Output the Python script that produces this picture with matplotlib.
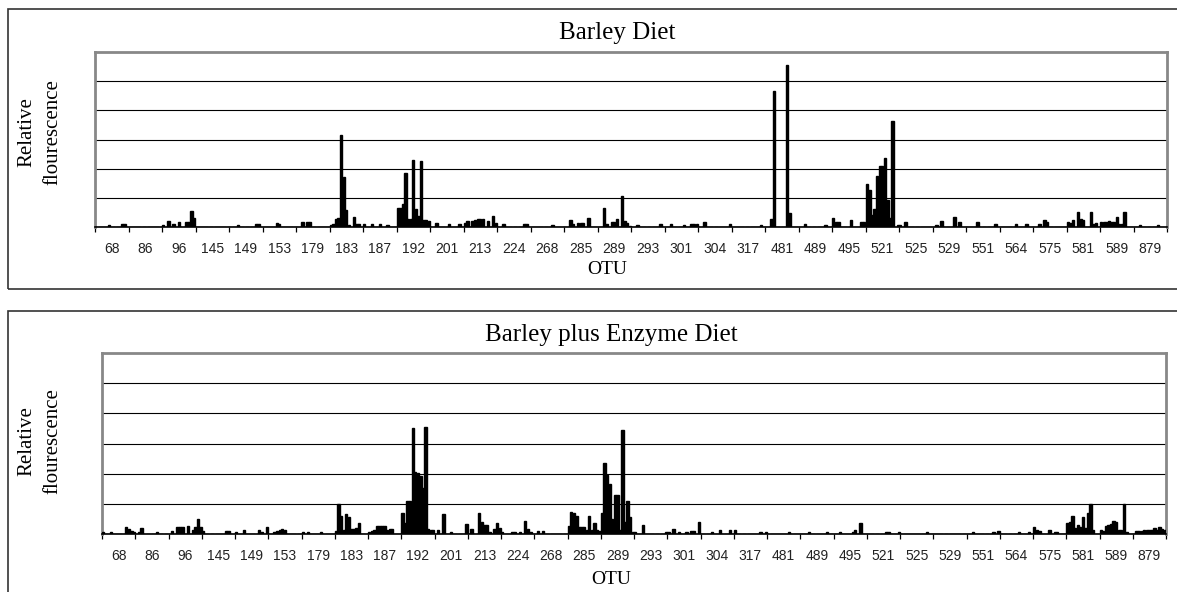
import numpy as np
from matplotlib import pyplot as plt
from matplotlib.patches import Rectangle

otu_labels = ['68', '86', '96', '145', '149', '153', '179', '183', '187', '192', '201',
              '213', '224', '268', '285', '289', '293', '301', '304', '317', '481', '489',
              '495', '521', '525', '529', '551', '564', '575', '581', '589', '879']
bars_per_label = 13

# relative fluorescence, one row of 13 OTUs per axis label (grid line = 1)
barley = [
    [0, 0, 0, 0, 0, 0.08, 0, 0, 0, 0, 0.11, 0.11, 0],
    [0, 0, 0, 0, 0, 0, 0, 0, 0, 0, 0, 0, 0],
    [0.08, 0, 0.2, 0, 0.11, 0, 0.18, 0, 0, 0.16, 0.16, 0.55, 0.3],
    [0, 0, 0, 0, 0, 0, 0, 0, 0, 0, 0, 0, 0],
    [0, 0, 0, 0.08, 0, 0, 0, 0, 0, 0, 0.1, 0.1, 0],
    [0, 0, 0, 0, 0, 0.14, 0.09, 0, 0, 0, 0, 0, 0],
    [0, 0, 0.18, 0, 0.16, 0.16, 0, 0, 0, 0, 0, 0, 0],
    [0.08, 0.11, 0.28, 0.3, 3.15, 1.7, 0.6, 0.08, 0, 0.35, 0.11, 0.09, 0],
    [0.09, 0, 0, 0.11, 0, 0, 0.11, 0, 0, 0.08, 0, 0, 0],
    [0.64, 0.64, 0.78, 1.85, 0.26, 0.26, 2.3, 0.62, 0.37, 2.28, 0.23, 0.23, 0.2],
    [0, 0, 0.14, 0, 0, 0, 0, 0.1, 0, 0, 0, 0.1, 0],
    [0.14, 0.2, 0, 0.2, 0.23, 0.26, 0.26, 0.26, 0, 0.2, 0, 0.38, 0.14],
    [0, 0, 0.09, 0, 0, 0, 0, 0, 0, 0, 0.1, 0.1, 0],
    [0, 0, 0, 0, 0, 0, 0, 0, 0.08, 0, 0, 0, 0],
    [0, 0, 0.24, 0.1, 0, 0.15, 0.15, 0.14, 0, 0.31, 0, 0, 0],
    [0, 0, 0.64, 0.1, 0, 0.16, 0.16, 0.29, 0, 1.06, 0.2, 0.15, 0.05],
    [0, 0, 0.08, 0, 0, 0, 0, 0, 0, 0, 0, 0.09, 0],
    [0, 0, 0.09, 0, 0, 0, 0, 0.08, 0, 0, 0.09, 0.1, 0.09],
    [0, 0, 0.16, 0, 0, 0, 0, 0, 0, 0, 0, 0, 0.09],
    [0, 0, 0, 0, 0, 0, 0, 0, 0, 0, 0, 0.07, 0],
    [0, 0, 0.29, 4.66, 0, 0, 0, 0, 5.54, 0.47, 0, 0, 0],
    [0, 0, 0.09, 0, 0, 0, 0, 0, 0, 0, 0.08, 0, 0],
    [0.32, 0.18, 0.18, 0, 0, 0, 0, 0.23, 0, 0, 0, 0.18, 0.18],
    [1.49, 1.26, 0.4, 0.63, 1.75, 2.08, 2.08, 2.37, 0.93, 0.32, 3.63, 0, 0.08],
    [0.08, 0, 0.18, 0, 0, 0, 0, 0, 0, 0, 0, 0, 0],
    [0, 0.08, 0, 0.22, 0, 0, 0, 0, 0.34, 0, 0.16, 0, 0],
    [0, 0, 0, 0, 0.16, 0, 0, 0, 0, 0, 0, 0.09, 0],
    [0, 0, 0, 0, 0, 0, 0.11, 0, 0, 0, 0.09, 0, 0],
    [0, 0, 0.1, 0, 0.24, 0.16, 0, 0, 0, 0, 0, 0, 0],
    [0.16, 0.14, 0.24, 0, 0.5, 0.26, 0.23, 0, 0, 0.5, 0.11, 0.14, 0],
    [0.16, 0.16, 0.16, 0.2, 0.16, 0.16, 0.36, 0.1, 0.11, 0.5, 0, 0, 0],
    [0, 0, 0.08, 0, 0, 0, 0, 0, 0, 0.08, 0, 0, 0],
]

barley_enzyme = [
    [0.07, 0, 0, 0.06, 0, 0, 0, 0, 0, 0.22, 0.17, 0.11, 0.08],
    [0, 0.06, 0.19, 0, 0, 0, 0, 0, 0.08, 0, 0, 0, 0],
    [0, 0.09, 0, 0.24, 0.24, 0.23, 0, 0.28, 0, 0.13, 0.24, 0.49, 0.24],
    [0.11, 0, 0, 0, 0, 0, 0, 0, 0, 0.1, 0.1, 0, 0],
    [0.08, 0, 0, 0.12, 0, 0, 0, 0, 0, 0.13, 0.08, 0, 0.22],
    [0, 0, 0.07, 0.11, 0.14, 0.17, 0.14, 0, 0, 0, 0, 0, 0],
    [0.07, 0, 0.06, 0, 0, 0, 0, 0.07, 0, 0, 0, 0, 0],
    [0.1, 1.0, 0.61, 0.13, 0.67, 0.58, 0.16, 0.18, 0.19, 0.36, 0, 0, 0],
    [0.08, 0.11, 0.13, 0.28, 0.27, 0.27, 0.28, 0.13, 0.17, 0.17, 0, 0, 0],
    [0.71, 0.36, 1.08, 1.08, 3.52, 2.06, 2.02, 1.93, 1.52, 3.56, 0.16, 0.13, 0.13],
    [0, 0.13, 0, 0.67, 0, 0, 0.08, 0, 0, 0, 0, 0, 0.33],
    [0, 0.17, 0, 0, 0.71, 0.39, 0.3, 0.3, 0.08, 0, 0.17, 0.36, 0.19],
    [0.06, 0, 0, 0, 0.05, 0.07, 0, 0.08, 0, 0.44, 0.17, 0.08, 0],
    [0, 0.1, 0, 0.1, 0, 0, 0, 0, 0, 0, 0, 0, 0],
    [0.28, 0.74, 0.69, 0.6, 0.22, 0.24, 0.24, 0.13, 0.61, 0.13, 0.38, 0.13, 0.1],
    [0.69, 2.36, 1.97, 1.66, 0.5, 1.3, 1.3, 0.13, 3.44, 0.39, 1.1, 0.58, 0.08],
    [0.08, 0, 0, 0.3, 0, 0, 0, 0, 0, 0, 0, 0, 0.07],
    [0.07, 0, 0.17, 0, 0.07, 0, 0, 0.06, 0, 0.11, 0.11, 0, 0.41],
    [0, 0, 0, 0, 0.05, 0, 0, 0.13, 0, 0, 0, 0.12, 0],
    [0.12, 0, 0, 0, 0, 0, 0, 0, 0, 0, 0.07, 0, 0.07],
    [0, 0, 0, 0, 0, 0, 0, 0, 0.07, 0, 0, 0, 0],
    [0, 0, 0, 0.06, 0, 0, 0, 0, 0, 0, 0.06, 0, 0],
    [0, 0, 0.08, 0, 0, 0, 0, 0.08, 0.13, 0, 0.36, 0, 0],
    [0, 0, 0, 0, 0, 0, 0, 0.07, 0.08, 0, 0, 0, 0.08],
    [0, 0, 0, 0, 0, 0, 0, 0, 0, 0, 0.06, 0, 0],
    [0, 0, 0, 0, 0, 0, 0, 0, 0, 0, 0, 0, 0],
    [0, 0, 0.07, 0, 0, 0, 0, 0, 0, 0, 0.07, 0, 0.09],
    [0, 0, 0, 0, 0, 0, 0, 0.07, 0, 0, 0, 0.08, 0],
    [0.22, 0.13, 0.1, 0, 0, 0, 0.13, 0, 0.08, 0.06, 0, 0, 0],
    [0.38, 0.41, 0.59, 0.19, 0.31, 0.24, 0.58, 0.19, 0.69, 0.99, 0.13, 0, 0],
    [0.13, 0.1, 0.28, 0.3, 0.33, 0.44, 0.41, 0.13, 0.13, 1.0, 0.06, 0, 0],
    [0, 0.11, 0.09, 0.1, 0.12, 0.12, 0.12, 0.12, 0.19, 0.13, 0.22, 0.16, 0.13],
]

titles = ['Barley Diet', 'Barley plus Enzyme Diet']

W, H = 1177, 592
fig = plt.figure(figsize=(W / 100, H / 100), dpi=100)

def fx(px):
    return px / W

def fy(py):
    return 1 - py / H

# pixel layout of each panel: outer box top, plot area left/right/top/bottom, title y, OTU y
panels = [
    dict(box_top=9, box_bottom=289, left=95, right=1167, top=52, bottom=227,
         title_x=617, title_y=33, xlab_x=607, xlab_y=269, ylab_y=132),
    dict(box_top=311, box_bottom=600, left=102, right=1166, top=353, bottom=534,
         title_x=611, title_y=335, xlab_x=611, xlab_y=579, ylab_y=441),
]

n_groups = len(otu_labels)
for data, title, p in zip([barley, barley_enzyme], titles, panels):
    # chart border (runs off the right edge of the image)
    fig.patches.append(Rectangle((fx(8), fy(p['box_bottom'])), fx(1185 - 8),
                                 fy(p['box_top']) - fy(p['box_bottom']),
                                 transform=fig.transFigure, fill=False,
                                 edgecolor='#333333', linewidth=1.2))

    ax = fig.add_axes([fx(p['left']), fy(p['bottom']), fx(p['right'] - p['left']),
                       fy(p['top']) - fy(p['bottom'])])
    values = np.concatenate(data)
    x = np.arange(len(values))
    ax.bar(x, values, width=0.9, color='black', edgecolor='black', linewidth=1.0, zorder=3)

    ax.set_xlim(-0.5, n_groups * bars_per_label - 0.5)
    ax.set_ylim(0, 6)
    ax.set_yticks(np.arange(1, 6))
    ax.yaxis.set_tick_params(length=0, labelleft=False)
    ax.grid(axis='y', color='black', linewidth=0.8, zorder=1)

    # ticks between groups, labels centred under each group
    edges = np.arange(n_groups + 1) * bars_per_label - 0.5
    centers = edges[:-1] + bars_per_label / 2
    ax.set_xticks(edges)
    ax.set_xticklabels([])
    ax.set_xticks(centers, minor=True)
    ax.set_xticklabels(otu_labels, minor=True, fontsize=10, family='Liberation Sans',
                       color='#222222')
    ax.tick_params(axis='x', which='major', length=3.5, width=0.9, direction='out', color='black')
    ax.tick_params(axis='x', which='minor', length=0, pad=10.5)

    for side in ['top', 'left', 'right']:
        ax.spines[side].set_color('#888888')
        ax.spines[side].set_linewidth(2)
    ax.spines['bottom'].set_color('black')
    ax.spines['bottom'].set_linewidth(1.2)
    ax.spines['bottom'].set_zorder(4)

    fig.text(fx(p['title_x']), fy(p['title_y']), title, ha='center', va='center',
             fontsize=18, family='Liberation Serif')
    fig.text(fx(p['xlab_x']), fy(p['xlab_y']), 'OTU', ha='center', va='center',
             fontsize=14, family='Liberation Serif')
    fig.text(fx(40), fy(p['ylab_y']), 'Relative\nflourescence', ha='center', va='center',
             rotation=90, fontsize=15, family='Liberation Serif', linespacing=1.45)

fig.savefig('out.png', dpi=100, facecolor='white')
plt.close(fig)
